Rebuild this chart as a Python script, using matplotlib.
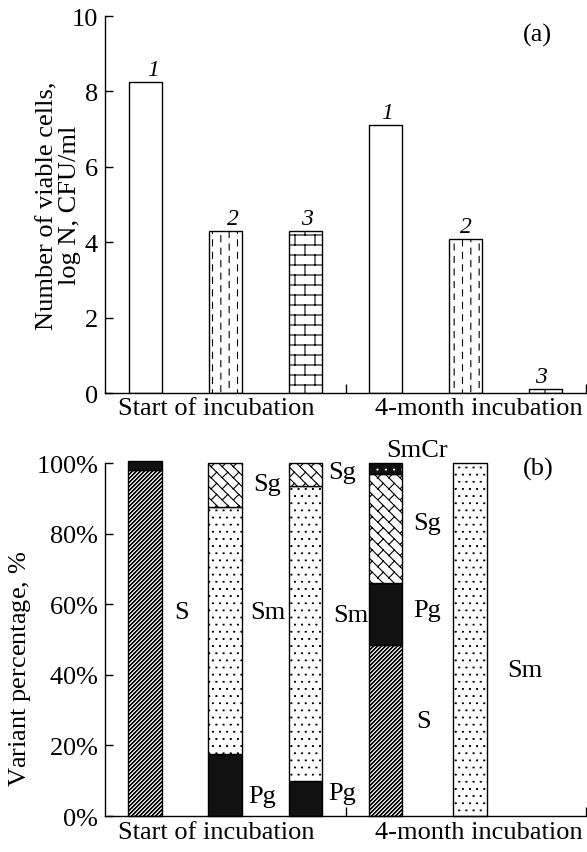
import warnings

import numpy as np
import matplotlib
matplotlib.use("Agg")
import matplotlib.pyplot as plt
import matplotlib.hatch as mhatch
import matplotlib.transforms as mtransforms
from matplotlib.path import Path

warnings.filterwarnings("ignore")

# ---- data -----------------------------------------------------------------
groups = ["Start of incubation", "4-month incubation"]

# (a) number of viable cells, log N
strain_ids = ["1", "2", "3", "1", "2", "3"]
log_cfu = [8.25, 4.30, 4.30, 7.10, 4.08, 0.12]

# (b) variant percentage, one value per bar
var_S = [98.0, 0.0, 0.0, 48.5, 0.0]
var_Pg = [2.5, 17.5, 10.0, 17.5, 0.0]
var_Sm = [0.0, 70.0, 83.5, 0.0, 100.0]
var_Sg = [0.0, 12.5, 6.5, 31.0, 0.0]
var_SmCr = [0.0, 0.0, 0.0, 3.0, 0.0]


# ---- custom hatches ---------------------------------------------------------
# each pattern is a list of short segments inside the unit hatch tile
class SegmentHatch(mhatch.HatchPatternBase):
    key = "?"

    def __init__(self, hatch, density):
        self.segs = self.segments() if self.key in hatch else []
        self.num_vertices = 2 * len(self.segs)

    def set_vertices_and_codes(self, vertices, codes):
        vertices[:] = np.asarray(self.segs, float).reshape(-1, 2)
        codes[0::2] = Path.MOVETO
        codes[1::2] = Path.LINETO


def vseg(segs, x, y0, y1):
    # vertical segment, wrapped inside the tile
    if y1 > 1:
        segs.append([(x, y0), (x, 1.0)])
        segs.append([(x, 0.0), (x, y1 - 1)])
    else:
        segs.append([(x, y0), (x, y1)])


def dot_grid(nx, ny, stagger, d, y_off=0.5):
    segs = []
    for j in range(ny):
        y = (j + y_off) / ny
        shift = 0.5 / nx if (stagger and j % 2) else 0.0
        for i in range(nx):
            x = (i + 0.25) / nx + shift
            segs.append([(x, y), (x + d, y)])
            segs.append([(x, y + d), (x + d, y + d)])
    return segs


class BrickHatch(SegmentHatch):
    key = "b"

    @staticmethod
    def segments():
        segs = []
        for i in range(10):
            y = 0.05 + 0.1 * i
            segs.append([(0.0, y), (1.0, y)])
            for m in range(5):
                x = 0.05 + 0.2 * m + 0.1 * (i % 2)
                vseg(segs, x, y, y + 0.1)
        return segs


class DashHatch(SegmentHatch):
    key = "d"

    @staticmethod
    def segments():
        segs = []
        for k in range(12):
            x = (k + 0.5) / 12
            for j in range(8):
                y0 = (j + (k % 3) / 3) / 8
                vseg(segs, x, y0, y0 + 0.06)
        return segs


class WeaveHatch(SegmentHatch):
    # bricks turned by 45 degrees
    key = "w"

    @staticmethod
    def segments():
        segs = []
        n = 9
        a = 1.0 / n
        for i in range(n):
            for j in range(n):
                x0, y0 = i * a, j * a
                segs.append([(x0 + a, y0), (x0, y0 + a)])
                segs.append([(x0, y0), (x0 + a / 2, y0 + a / 2)])
        return segs


class StripeHatch(SegmentHatch):
    key = "s"

    @staticmethod
    def segments():
        segs = []
        n = 25
        for k in range(-n, n):
            for off in (0.0, 0.006):
                c = k / n + off
                # line y = x + c clipped to the tile
                x0 = max(0.0, -c)
                x1 = min(1.0, 1.0 - c)
                if x1 > x0:
                    segs.append([(x0, x0 + c), (x1, x1 + c)])
        return segs


class DotHatch(SegmentHatch):
    key = "p"

    @staticmethod
    def segments():
        return dot_grid(14, 14, True, 0.007)


class BandDotHatch(SegmentHatch):
    key = "c"

    @staticmethod
    def segments():
        return dot_grid(12, 10, False, 0.008, y_off=0.0)


mhatch._hatch_types.extend([BrickHatch, DashHatch, WeaveHatch, StripeHatch,
                            DotHatch, BandDotHatch])

plt.rcParams["font.family"] = ["Liberation Serif", "DejaVu Serif"]
plt.rcParams["mathtext.fontset"] = "custom"
plt.rcParams["mathtext.rm"] = "Liberation Serif"
plt.rcParams["mathtext.it"] = "Liberation Serif:italic"
plt.rcParams["hatch.linewidth"] = 0.8
plt.rcParams["hatch.color"] = "black"

FS = 19
fig = plt.figure(figsize=(5.87, 8.53), dpi=100)
ax_a = fig.add_axes([0.1789, 0.538, 0.8194, 0.442])
ax_b = fig.add_axes([0.1789, 0.0422, 0.8194, 0.4138])


def style_axes(ax):
    for s in ("top", "right"):
        ax.spines[s].set_visible(False)
    for s in ("left", "bottom"):
        ax.spines[s].set_linewidth(1.0)
    ax.set_xlim(0, 6)
    ax.set_xticks([3, 6])
    ax.tick_params(axis="x", direction="in", length=6.5, width=1.0,
                   labelbottom=False)
    ax.tick_params(axis="y", direction="in", length=5.5, width=1.0,
                   pad=5, labelsize=FS)


def group_labels(ax, ybase):
    trans = mtransforms.blended_transform_factory(ax.transData, ax.transAxes)
    for x, g in zip([1.39, 4.66], groups):
        ax.text(x, ybase, g, transform=trans, ha="center", va="baseline",
                fontsize=FS, clip_on=False)


# ---- panel (a) --------------------------------------------------------------
xa = np.arange(6) + 0.5
a_hatch = [None, "d", "b", None, "d", "b"]
a_dx = [0.1, 0.09, 0.02, 0.02, 0.0, -0.06]
for x, v, h in zip(xa, log_cfu, a_hatch):
    ax_a.bar(x, v, 0.41, color="white", edgecolor="black", linewidth=1.0,
             hatch=h)
for x, v, s, dx in zip(xa, log_cfu, strain_ids, a_dx):
    ax_a.text(x + dx, v + 0.33, s, ha="center", va="center", fontsize=17,
              style="italic")

style_axes(ax_a)
ax_a.set_ylim(0, 10)
ax_a.set_yticks([0, 2, 4, 6, 8, 10])
ax_a.set_ylabel("Number of viable cells,\nlog N, CFU/ml", fontsize=FS,
                linespacing=1.05)
ax_a.yaxis.set_label_coords(-0.05, 0.5)
ax_a.text(5.4, 9.5, "(a)", ha="center", va="center", fontsize=FS)
group_labels(ax_a, -0.055)

# ---- panel (b) --------------------------------------------------------------
xb = np.array([0.5, 1.5, 2.5, 3.5, 4.55])
wb = 0.42
layers = [
    (var_S, "white", "s"),
    (var_Pg, "#111111", None),
    (var_Sm, "white", "p"),
    (var_Sg, "white", "w"),
    (var_SmCr, "#111111", "c"),
]
bottom = np.zeros(len(xb))
for vals, fc, h in layers:
    vals = np.asarray(vals)
    keep = vals > 0
    if h == "c":
        # black band with white dots
        ax_b.bar(xb[keep], vals[keep], wb, bottom=bottom[keep], color=fc,
                 edgecolor="white", hatch=h, linewidth=0, clip_on=False)
        ax_b.bar(xb[keep], vals[keep], wb, bottom=bottom[keep], fill=False,
                 edgecolor="black", linewidth=1.0, clip_on=False)
    else:
        ax_b.bar(xb[keep], vals[keep], wb, bottom=bottom[keep], color=fc,
                 edgecolor="black", hatch=h, linewidth=1.0, clip_on=False)
    bottom += vals

b_labels = [
    ("S", 0.96, 57.7), ("Sg", 2.02, 94.0), ("Sm", 2.03, 57.7),
    ("Pg", 1.96, 5.7), ("Sg", 2.96, 97.6), ("Sm", 3.07, 57.0),
    ("Pg", 2.96, 6.6), ("SmCr", 3.89, 103.6), ("Sg", 4.02, 83.0),
    ("Pg", 4.02, 58.5), ("S", 3.97, 26.8), ("Sm", 5.24, 41.4),
]
for s, x, y in b_labels:
    ax_b.text(x, y, s, ha="center", va="center", fontsize=FS, clip_on=False)
ax_b.text(5.4, 98.4, "(b)", ha="center", va="center", fontsize=FS)

style_axes(ax_b)
ax_b.set_ylim(0, 100)
pct_ticks = [0, 20, 40, 60, 80, 100]
ax_b.set_yticks(pct_ticks)
ax_b.set_yticklabels([f"{t}" + r"$\it{\%}$" for t in pct_ticks])
ax_b.set_ylabel(r"Variant percentage, $\it{\%}$", fontsize=FS)
ax_b.yaxis.set_label_coords(-0.15, 0.42)
group_labels(ax_b, -0.062)

fig.savefig("out.png", dpi=100)
